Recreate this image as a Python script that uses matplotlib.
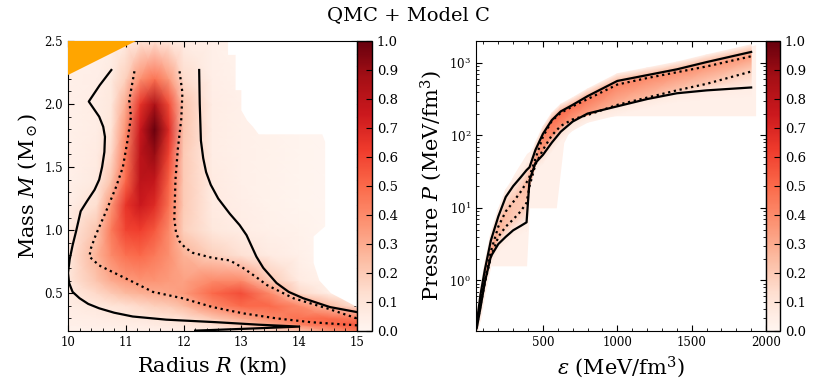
import numpy as np
import matplotlib
matplotlib.use('Agg')
import matplotlib.pyplot as plt
from matplotlib.ticker import MultipleLocator, LogLocator, NullFormatter

plt.rcParams['font.family'] = ['DejaVu Serif']
plt.rcParams['mathtext.fontset'] = 'dejavuserif'

# ---- mass-radius posterior
mr_radius = [10, 10.5, 10.75, 11, 11.25, 11.5, 11.75, 12, 12.5, 13, 13.5, 14, 14.5, 15]
mr_mass = [0.2, 0.25, 0.3, 0.4, 0.5, 0.6, 0.8, 1.0, 1.2, 1.4, 1.6, 1.8, 2.0, 2.2, 2.5]
mr_density = [
    [0.02, 0.02, 0.02, 0.02, 0.03, 0.03, 0.04, 0.05, 0.06, 0.08, 0.12, 0.20, 0.35, 0.45],
    [0.03, 0.04, 0.04, 0.05, 0.05, 0.06, 0.07, 0.08, 0.12, 0.20, 0.30, 0.42, 0.50, 0.55],
    [0.04, 0.05, 0.06, 0.07, 0.08, 0.09, 0.10, 0.12, 0.20, 0.30, 0.40, 0.48, 0.50, 0.45],
    [0.05, 0.08, 0.10, 0.12, 0.15, 0.18, 0.20, 0.25, 0.40, 0.50, 0.50, 0.40, 0.25, 0.12],
    [0.06, 0.15, 0.20, 0.25, 0.28, 0.30, 0.32, 0.35, 0.50, 0.58, 0.40, 0.15, 0.05, 0.02],
    [0.08, 0.22, 0.30, 0.35, 0.37, 0.37, 0.35, 0.33, 0.40, 0.40, 0.20, 0.06, 0.02, 0.00],
    [0.08, 0.28, 0.40, 0.48, 0.50, 0.45, 0.38, 0.28, 0.18, 0.12, 0.06, 0.03, 0.00, 0.00],
    [0.06, 0.22, 0.45, 0.60, 0.62, 0.55, 0.40, 0.18, 0.08, 0.05, 0.03, 0.02, 0.00, 0.00],
    [0.04, 0.13, 0.36, 0.65, 0.75, 0.68, 0.47, 0.20, 0.06, 0.04, 0.02, 0.01, 0.00, 0.00],
    [0.03, 0.07, 0.22, 0.50, 0.80, 0.78, 0.52, 0.20, 0.06, 0.03, 0.02, 0.01, 0.00, 0.00],
    [0.03, 0.06, 0.15, 0.45, 0.80, 0.90, 0.60, 0.20, 0.05, 0.03, 0.02, 0.01, 0.00, 0.00],
    [0.03, 0.05, 0.10, 0.38, 0.75, 1.00, 0.68, 0.22, 0.05, 0.03, 0.02, 0.01, 0.00, 0.00],
    [0.03, 0.05, 0.08, 0.30, 0.65, 0.85, 0.58, 0.22, 0.05, 0.03, 0.02, 0.00, 0.00, 0.00],
    [0.03, 0.04, 0.07, 0.18, 0.38, 0.48, 0.35, 0.14, 0.04, 0.02, 0.01, 0.00, 0.00, 0.00],
    [0.02, 0.03, 0.04, 0.06, 0.10, 0.12, 0.08, 0.05, 0.03, 0.02, 0.01, 0.00, 0.00, 0.00],
]

# region with no samples (white)
empty_R = [12.77, 12.77, 12.9, 12.9, 13.0, 13.0, 13.1, 13.2, 13.3, 14.4, 14.45, 14.45,
           14.25, 14.25, 14.35, 14.55, 14.8, 15.0, 15.0]
empty_M = [2.5, 2.39, 2.39, 2.11, 2.11, 1.95, 1.87, 1.82, 1.76, 1.76, 1.7, 1.03,
           0.95, 0.74, 0.6, 0.5, 0.44, 0.39, 2.5]

# causality-excluded corner
excl_R = [10, 10, 11.18]
excl_M = [2.23, 2.5, 2.5]

# contours
c95_left_R = [10.75, 10.55, 10.36, 10.45, 10.54, 10.61, 10.64, 10.63, 10.59, 10.54, 10.46,
              10.33, 10.22, 10.14, 10.08, 10.03, 10.0, 10.02, 10.08, 10.2, 10.35, 10.54,
              10.8, 11.12, 11.7, 12.56, 13.3, 14.0, 13.2, 12.2]
c95_left_M = [2.27, 2.15, 2.02, 1.96, 1.9, 1.82, 1.74, 1.62, 1.5, 1.4, 1.32,
              1.23, 1.15, 0.99, 0.88, 0.77, 0.66, 0.58, 0.51, 0.46, 0.415, 0.38,
              0.345, 0.315, 0.29, 0.27, 0.25, 0.235, 0.22, 0.203]
c95_right_R = [12.27, 12.28, 12.3, 12.34, 12.39, 12.47, 12.6, 12.8, 12.97, 13.09, 13.17,
               13.26, 13.38, 13.61, 13.82, 14.07, 14.53, 15.0]
c95_right_M = [2.27, 2.0, 1.71, 1.57, 1.46, 1.36, 1.25, 1.13, 1.04, 0.96, 0.88,
               0.79, 0.70, 0.58, 0.51, 0.46, 0.39, 0.35]
c68_left_R = [11.15, 11.06, 11.09, 11.03, 10.95, 10.83, 10.66, 10.48, 10.4, 10.37, 10.54,
              11.12, 11.47, 11.98, 12.5, 13.03, 13.61, 14.2, 15.0]
c68_left_M = [2.26, 2.03, 1.9, 1.71, 1.5, 1.34, 1.15, 0.96, 0.86, 0.79, 0.72,
              0.59, 0.51, 0.46, 0.39, 0.34, 0.30, 0.27, 0.245]
c68_right_R = [11.93, 11.98, 11.96, 11.9, 11.86, 11.84, 11.87, 11.93, 12.03, 12.16, 12.5,
               12.8, 13.03, 13.25, 13.44, 13.9, 14.48, 15.0]
c68_right_M = [2.26, 2.09, 1.88, 1.64, 1.4, 1.09, 0.98, 0.91, 0.86, 0.82, 0.78,
               0.76, 0.70, 0.63, 0.565, 0.46, 0.38, 0.30]

# ---- equation of state posterior (log10 P in MeV/fm^3)
eps = [55, 80, 110, 150, 200, 250, 300, 350, 390, 410, 450, 500, 560, 620, 700,
       800, 1000, 1200, 1400, 1600, 1900]
logp_hi95 = [-0.6, -0.2, 0.15, 0.55, 0.88, 1.15, 1.3, 1.42, 1.52, 1.56, 1.8, 2.02, 2.21,
             2.33, 2.42, 2.54, 2.75, 2.83, 2.91, 3.01, 3.15]
logp_hi68 = [-0.62, -0.3, 0.0, 0.4, 0.74, 0.95, 1.08, 1.22, 1.35, 1.43, 1.68, 1.98, 2.2,
             2.31, 2.4, 2.5, 2.7, 2.79, 2.87, 2.95, 3.09]
logp_lo68 = [-0.64, -0.35, -0.03, 0.32, 0.6, 0.74, 0.84, 0.95, 1.07, 1.3, 1.6, 1.8, 2.0,
             2.13, 2.22, 2.28, 2.42, 2.52, 2.62, 2.71, 2.88]
logp_lo95 = [-0.66, -0.38, -0.02, 0.33, 0.5, 0.6, 0.69, 0.75, 0.8, 1.38, 1.62, 1.73, 1.9,
             2.05, 2.19, 2.3, 2.4, 2.5, 2.58, 2.62, 2.66]

dens_hi95 = [0.2, 0.2, 0.18, 0.15, 0.12, 0.1, 0.1, 0.1, 0.12, 0.15, 0.2, 0.25, 0.3, 0.3,
             0.28, 0.28, 0.25, 0.25, 0.25, 0.25, 0.25]
dens_hi68 = [0.5, 0.5, 0.45, 0.35, 0.28, 0.25, 0.22, 0.22, 0.25, 0.3, 0.35, 0.42, 0.48, 0.5,
             0.48, 0.45, 0.42, 0.4, 0.38, 0.36, 0.35]
dens_lo68 = [0.45, 0.45, 0.4, 0.3, 0.25, 0.22, 0.2, 0.2, 0.2, 0.25, 0.3, 0.35, 0.38, 0.38,
             0.35, 0.32, 0.28, 0.25, 0.22, 0.2, 0.18]
dens_lo95 = [0.15, 0.15, 0.12, 0.1, 0.08, 0.07, 0.06, 0.06, 0.06, 0.1, 0.1, 0.12, 0.12, 0.12,
             0.1, 0.1, 0.08, 0.08, 0.07, 0.06, 0.05]
dens_edge = 0.03

# faint sampled region
pale_eps = [50, 80, 110, 150, 200, 300, 390, 410, 450, 560, 590, 640, 700, 760, 1000, 1500, 1930]
pale_hi = [-0.55, -0.1, 0.25, 0.65, 1.0, 1.45, 1.75, 1.78, 1.9, 2.3, 2.35, 2.42, 2.5, 2.58,
           2.82, 3.0, 3.25]
pale_lo = [-0.7, -0.55, -0.2, 0.2, 0.2, 0.2, 0.2, 1.0, 1.0, 1.0, 1.0, 1.9, 2.15, 2.25,
           2.27, 2.27, 2.27]


cmap = plt.get_cmap('Reds')
fig = plt.figure(figsize=(8.17, 3.92), dpi=100)

ax1 = fig.add_axes([0.0832, 0.1556, 0.3537, 0.7398])
cax1 = fig.add_axes([0.4369, 0.1556, 0.0184, 0.7398])
ax2 = fig.add_axes([0.5826, 0.1556, 0.3550, 0.7398])
cax2 = fig.add_axes([0.9376, 0.1556, 0.0172, 0.7398])

# left panel
mesh1 = ax1.pcolormesh(mr_radius, mr_mass, np.array(mr_density), shading='gouraud',
                       cmap=cmap, vmin=0, vmax=1, rasterized=True)
ax1.fill(empty_R, empty_M, color='white', lw=0, zorder=2)
ax1.fill(excl_R, excl_M, color='orange', lw=0, zorder=3)
ax1.plot(c95_left_R, c95_left_M, 'k-', lw=1.6, zorder=4)
ax1.plot(c95_right_R, c95_right_M, 'k-', lw=1.6, zorder=4)
ax1.plot(c68_left_R, c68_left_M, 'k:', lw=1.6, zorder=4)
ax1.plot(c68_right_R, c68_right_M, 'k:', lw=1.6, zorder=4)
ax1.set_xlim(10, 15)
ax1.set_ylim(0.2, 2.5)
ax1.xaxis.set_major_locator(MultipleLocator(1))
ax1.xaxis.set_minor_locator(MultipleLocator(0.2))
ax1.yaxis.set_major_locator(MultipleLocator(0.5))
ax1.yaxis.set_minor_locator(MultipleLocator(0.1))
ax1.set_xlabel(r'Radius $R$ (km)', fontsize=15)
ax1.set_ylabel(r'Mass $M$ (M$_\odot$)', fontsize=15)

# right panel
eps_arr = np.array(eps, dtype=float)
edge_lo = np.array(logp_lo95) - 0.12
edge_hi = np.array(logp_hi95) + 0.10
rows = [edge_lo, logp_lo95, logp_lo68, logp_hi68, logp_hi95, edge_hi]
Y = 10 ** np.vstack(rows)
X = np.tile(eps_arr, (len(rows), 1))
C = np.vstack([np.full(len(eps), dens_edge), dens_lo95, dens_lo68, dens_hi68,
               dens_hi95, np.full(len(eps), dens_edge)])

ax2.fill_between(pale_eps, 10 ** np.array(pale_lo), 10 ** np.array(pale_hi),
                 color=cmap(0.03), lw=0, zorder=1)
mesh2 = ax2.pcolormesh(X, Y, C, shading='gouraud', cmap=cmap, vmin=0, vmax=1,
                       zorder=2, rasterized=True)
ax2.plot(eps, 10 ** np.array(logp_hi95), 'k-', lw=1.6, zorder=4)
ax2.plot(eps, 10 ** np.array(logp_lo95), 'k-', lw=1.6, zorder=4)
ax2.plot(eps, 10 ** np.array(logp_hi68), 'k:', lw=1.6, zorder=4)
ax2.plot(eps, 10 ** np.array(logp_lo68), 'k:', lw=1.6, zorder=4)
ax2.set_yscale('log')
ax2.set_xlim(50, 2000)
ax2.set_ylim(0.2, 2000)
ax2.xaxis.set_major_locator(MultipleLocator(500))
ax2.xaxis.set_minor_locator(MultipleLocator(100))
ax2.yaxis.set_major_locator(LogLocator(base=10, numticks=10))
ax2.yaxis.set_minor_locator(LogLocator(base=10, subs=np.arange(2, 10), numticks=20))
ax2.yaxis.set_minor_formatter(NullFormatter())
ax2.set_xlabel(r'$\epsilon$ (MeV/fm$^3$)', fontsize=15)
ax2.set_ylabel(r'Pressure $P$ (MeV/fm$^3$)', fontsize=15)

for ax in (ax1, ax2):
    ax.tick_params(which='both', direction='in', top=True, right=True, labelsize=8.5)
    ax.tick_params(which='major', length=4.5, width=0.8)
    ax.tick_params(which='minor', length=2.5, width=0.6)

for cax, m in ((cax1, mesh1), (cax2, mesh2)):
    cb = fig.colorbar(m, cax=cax, ticks=np.arange(0, 1.01, 0.1))
    cb.outline.set_linewidth(1.0)
    cax.tick_params(direction='in', length=4, width=0.8, labelsize=9.5)

fig.suptitle('QMC + Model C', fontsize=14, y=0.985)

fig.savefig('out.png', dpi=100)
